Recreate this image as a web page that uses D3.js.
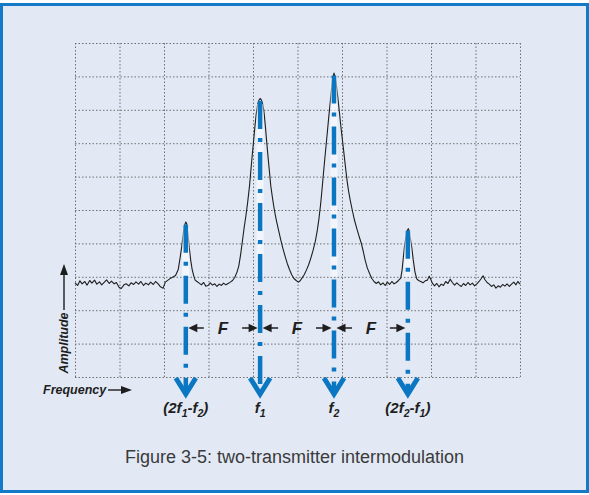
<!DOCTYPE html>
<html>
<head>
<meta charset="utf-8">
<script src="https://cdn.jsdelivr.net/npm/d3@7"></script>
<style>
  html, body { margin: 0; padding: 0; background: #ffffff; }
  svg { display: block; font-family: "Liberation Sans", Arial, sans-serif; }
</style>
</head>
<body>
<div id="chart"></div>
<script>
// grid divisions (10 x 10, no tick labels on the analyzer screen)
const gridTicks = [0, 10, 20, 30, 40, 50, 60, 70, 80, 90, 100];

// signals: labels ("_" marks a subscript char), centre frequency, peak amplitude
const peakLabels = ["(2f_1-f_2)", "f_1", "f_2", "(2f_2-f_1)"];
const peakFreq = [24.9, 41.6, 58.2, 74.8];
const peakAmp = [45.6, 82.6, 90.3, 43.8];
const spacingLabel = "F";

// analyzer trace [frequency, amplitude]
const trace = [
  [0, 28.2], [0.6, 27.4], [1.1, 28.8], [1.6, 27.9], [2.2, 28.6], [2.7, 27.5], [3.3, 28.9], [3.8, 28.1],
  [4.4, 29.0], [4.9, 27.8], [5.5, 28.5], [6.0, 27.6], [6.6, 28.4], [7.1, 29.1], [7.7, 28.0], [8.2, 28.7],
  [8.8, 27.9], [9.3, 28.3], [9.9, 26.9], [10.4, 26.5], [11.0, 27.6], [11.5, 27.9], [12.1, 27.3], [12.6, 28.2],
  [13.2, 27.7], [13.7, 28.5], [14.3, 27.8], [14.8, 28.6], [15.4, 27.4], [15.9, 28.1], [16.5, 27.6], [17.0, 28.4],
  [17.6, 27.7], [18.1, 28.6], [18.7, 27.9], [19.2, 27.0], [19.8, 26.6], [20.3, 28.4], [20.9, 29.0], [21.5, 29.6],
  [22.1, 30.0], [22.6, 30.4], [23.2, 32.2], [23.6, 35.5], [24.0, 39.2], [24.4, 43.8], [24.7, 45.7], [24.9, 46.4],
  [25.1, 45.9], [25.4, 42.6], [25.7, 38.5], [26.0, 35.0], [26.3, 32.4], [26.7, 30.2], [27.0, 29.0], [27.4, 28.6],
  [27.9, 28.1], [28.4, 27.6], [28.9, 28.3], [29.4, 27.2], [29.9, 27.4], [30.4, 28.2], [30.9, 27.5], [31.4, 27.9],
  [31.9, 27.1], [32.4, 27.8], [32.9, 27.4], [33.4, 28.1], [33.9, 27.6], [34.4, 28.0], [34.9, 28.4], [35.4, 28.9],
  [35.9, 29.8], [36.4, 31.4], [36.8, 33.2], [37.2, 36.5], [37.6, 40.5], [38.0, 44.6], [38.4, 48.2], [38.8, 52.3],
  [39.2, 57.0], [39.5, 61.5], [39.8, 66.0], [40.1, 70.2], [40.4, 74.5], [40.7, 78.5], [41.0, 81.3], [41.3, 82.8],
  [41.6, 83.4], [41.9, 82.9], [42.2, 81.6], [42.5, 79.0], [42.8, 74.8], [43.1, 70.1], [43.4, 65.6], [43.7, 61.4],
  [44.0, 57.2], [44.4, 53.4], [44.8, 50.0], [45.2, 47.2], [45.7, 44.2], [46.2, 41.3], [46.7, 38.6], [47.2, 36.2],
  [47.7, 34.0], [48.2, 32.2], [48.7, 30.6], [49.2, 29.5], [49.7, 28.9], [50.2, 28.4], [50.6, 28.8], [51.0, 29.6],
  [51.5, 30.6], [52.0, 32.0], [52.5, 33.6], [53.0, 35.6], [53.5, 37.9], [54.0, 40.6], [54.4, 43.5], [54.8, 47.2],
  [55.2, 51.8], [55.5, 56.0], [55.8, 60.5], [56.1, 64.8], [56.4, 69.0], [56.7, 73.2], [57.0, 77.5], [57.3, 81.5],
  [57.6, 85.6], [57.9, 89.2], [58.2, 91.0], [58.5, 89.8], [58.8, 86.8], [59.1, 83.2], [59.4, 79.5], [59.7, 75.6],
  [60.0, 72.0], [60.3, 68.6], [60.6, 65.0], [60.9, 61.5], [61.2, 58.2], [61.5, 55.5], [61.9, 52.6], [62.3, 50.0],
  [62.8, 47.0], [63.3, 44.6], [63.8, 42.3], [64.3, 40.2], [64.8, 37.5], [65.2, 35.0], [65.7, 32.6], [66.2, 31.0],
  [66.7, 29.5], [67.2, 28.6], [67.7, 28.0], [68.2, 28.5], [68.7, 27.6], [69.2, 28.2], [69.7, 27.4], [70.2, 28.4],
  [70.7, 27.7], [71.2, 28.6], [71.7, 27.9], [72.2, 28.3], [72.7, 28.9], [73.2, 29.6], [73.5, 32.0], [73.8, 36.0],
  [74.1, 39.8], [74.4, 42.4], [74.7, 44.0], [74.9, 44.4], [75.1, 43.7], [75.4, 41.2], [75.7, 38.6], [76.0, 35.2],
  [76.4, 31.4], [76.8, 29.4], [77.2, 28.9], [77.7, 28.6], [78.2, 28.2], [78.7, 28.8], [79.2, 29.0], [79.6, 30.2],
  [79.9, 29.4], [80.3, 28.1], [80.8, 27.3], [81.3, 28.0], [81.8, 27.0], [82.3, 27.8], [82.8, 27.4], [83.3, 28.6],
  [83.8, 28.0], [84.3, 29.3], [84.8, 28.3], [85.3, 27.5], [85.8, 28.2], [86.3, 27.6], [86.8, 27.1], [87.3, 28.0],
  [87.8, 27.4], [88.3, 28.3], [88.8, 27.6], [89.3, 28.1], [89.8, 27.3], [90.3, 27.9], [90.8, 28.6], [91.3, 29.5],
  [91.7, 30.3], [92.1, 29.2], [92.6, 28.3], [93.1, 27.8], [93.6, 27.1], [94.1, 27.6], [94.6, 26.6], [95.1, 27.3],
  [95.6, 26.9], [96.1, 27.7], [96.6, 27.2], [97.1, 27.9], [97.6, 27.1], [98.1, 27.8], [98.6, 28.4], [99.1, 27.6],
  [99.5, 28.6], [100, 27.8]
];

const caption = "Figure 3-5: two-transmitter intermodulation";
const xTitle = "Frequency";
const yTitle = "Amplitude";

const width = 589, height = 495;
const blue = "#0b77c2";
const ink = "#1e1e1e";

const svg = d3.select("#chart").append("svg")
  .attr("width", width)
  .attr("height", height);

// panel with blue frame
svg.append("rect")
  .attr("x", 1.5).attr("y", 4.5)
  .attr("width", width - 3).attr("height", height - 8)
  .attr("fill", "#e2e9f5")
  .attr("stroke", "#1479c6")
  .attr("stroke-width", 3);

// scales for the analyzer screen
const x = d3.scaleLinear().domain([0, 100]).range([75, 520]);
const y = d3.scaleLinear().domain([0, 100]).range([377, 43]);
const plotH = y(0) - y(100);
const plotW = x(100) - x(0);

// grid (dotted, like the scanned screen)
const gridV = svg.append("g")
  .attr("transform", `translate(0,${y(0)})`)
  .call(d3.axisBottom(x).tickValues(gridTicks).tickSize(-plotH).tickFormat(""));
const gridH = svg.append("g")
  .attr("transform", `translate(${x(0)},0)`)
  .call(d3.axisLeft(y).tickValues(gridTicks).tickSize(-plotW).tickFormat(""));
[gridV, gridH].forEach(g => {
  g.select(".domain").remove();
  g.selectAll(".tick line")
    .attr("stroke", "#6f6f6f")
    .attr("stroke-width", 1)
    .attr("stroke-dasharray", "1.5,2");
});

// analyzer trace
const line = d3.line().x(d => x(d[0])).y(d => y(d[1]));
svg.append("path")
  .datum(trace)
  .attr("d", line)
  .attr("fill", "none")
  .attr("stroke", ink)
  .attr("stroke-width", 1.1)
  .attr("stroke-linejoin", "round");

// dash-dot markers down from each peak
const tipY = y(0) + 19;
const peaks = peakFreq.map((f, i) => ({ f, a: peakAmp[i], label: peakLabels[i] }));

svg.selectAll(".halo")
  .data(peaks)
  .enter().append("line")
  .attr("class", "halo")
  .attr("x1", d => x(d.f)).attr("x2", d => x(d.f))
  .attr("y1", d => y(d.a) + 3).attr("y2", y(30))
  .attr("stroke", "#ffffff")
  .attr("stroke-opacity", 0.55)
  .attr("stroke-width", 7);

svg.selectAll(".marker")
  .data(peaks)
  .enter().append("line")
  .attr("class", "marker")
  .attr("x1", d => x(d.f)).attr("x2", d => x(d.f))
  .attr("y1", d => y(d.a)).attr("y2", tipY - 3)
  .attr("stroke", blue)
  .attr("stroke-width", 4.5)
  .attr("stroke-dasharray", "28,9,4,10");

svg.selectAll(".chevron")
  .data(peaks)
  .enter().append("path")
  .attr("class", "chevron")
  .attr("d", d => {
    const cx = x(d.f);
    return `M${cx - 10},${tipY - 18} L${cx},${tipY - 2} L${cx + 10},${tipY - 18}`;
  })
  .attr("fill", "none")
  .attr("stroke", blue)
  .attr("stroke-width", 5);

// labels under the arrows, "_" -> subscript
const labels = svg.selectAll(".peak-label")
  .data(peaks)
  .enter().append("text")
  .attr("class", "peak-label")
  .attr("x", d => x(d.f))
  .attr("y", 413)
  .attr("text-anchor", "middle")
  .attr("font-size", 15)
  .attr("font-weight", "bold")
  .attr("font-style", "italic")
  .attr("fill", ink);

labels.each(function (d) {
  const t = d3.select(this);
  const parts = d.label.split("_");
  parts.forEach((p, i) => {
    if (i === 0) {
      t.append("tspan").text(p);
    } else {
      t.append("tspan").attr("font-size", 10.5).attr("dy", 4).text(p[0]);
      if (p.length > 1) t.append("tspan").attr("dy", -4).text(p.slice(1));
    }
  });
});

// F spacing arrows between neighbouring signals
const yF = y(0) - 49;
function arrowHead(tipX, dir) {
  // dir = -1 points left, +1 points right
  return `M${tipX},${yF} L${tipX - dir * 9},${yF - 4.2} L${tipX - dir * 9},${yF + 4.2} Z`;
}
const gaps = d3.pairs(peaks);
const gapG = svg.selectAll(".gap")
  .data(gaps)
  .enter().append("g")
  .attr("class", "gap");

gapG.each(function ([p, q]) {
  const g = d3.select(this);
  const a = x(p.f), b = x(q.f);
  g.append("line")
    .attr("x1", a + 10).attr("x2", a + 18)
    .attr("y1", yF).attr("y2", yF)
    .attr("stroke", ink).attr("stroke-width", 1.5);
  g.append("path").attr("d", arrowHead(a + 2.5, -1)).attr("fill", ink);
  g.append("line")
    .attr("x1", b - 18).attr("x2", b - 10)
    .attr("y1", yF).attr("y2", yF)
    .attr("stroke", ink).attr("stroke-width", 1.5);
  g.append("path").attr("d", arrowHead(b - 2.5, 1)).attr("fill", ink);
  g.append("text")
    .attr("x", (a + b) / 2)
    .attr("y", yF + 6)
    .attr("text-anchor", "middle")
    .attr("font-size", 17)
    .attr("font-weight", "bold")
    .attr("font-style", "italic")
    .attr("fill", ink)
    .text(spacingLabel);
});

// axis titles with arrows
svg.append("text")
  .attr("transform", "translate(67.5,343) rotate(-90)")
  .attr("text-anchor", "middle")
  .attr("font-size", 12.5)
  .attr("font-weight", "bold")
  .attr("font-style", "italic")
  .attr("fill", ink)
  .text(yTitle);
svg.append("line")
  .attr("x1", 64).attr("x2", 64)
  .attr("y1", 310).attr("y2", 273)
  .attr("stroke", ink).attr("stroke-width", 1.4);
svg.append("path")
  .attr("d", "M64,264 L60,275 L68,275 Z")
  .attr("fill", ink);

svg.append("text")
  .attr("x", 43)
  .attr("y", 393.5)
  .attr("font-size", 12.5)
  .attr("font-weight", "bold")
  .attr("font-style", "italic")
  .attr("fill", ink)
  .text(xTitle);
svg.append("line")
  .attr("x1", 108).attr("x2", 123)
  .attr("y1", 390).attr("y2", 390)
  .attr("stroke", ink).attr("stroke-width", 1.4);
svg.append("path")
  .attr("d", "M132,390 L121,386 L121,394 Z")
  .attr("fill", ink);

// caption
svg.append("text")
  .attr("x", 294.5)
  .attr("y", 463)
  .attr("text-anchor", "middle")
  .attr("font-size", 18)
  .attr("fill", "#3a3a3a")
  .text(caption);
</script>
</body>
</html>
